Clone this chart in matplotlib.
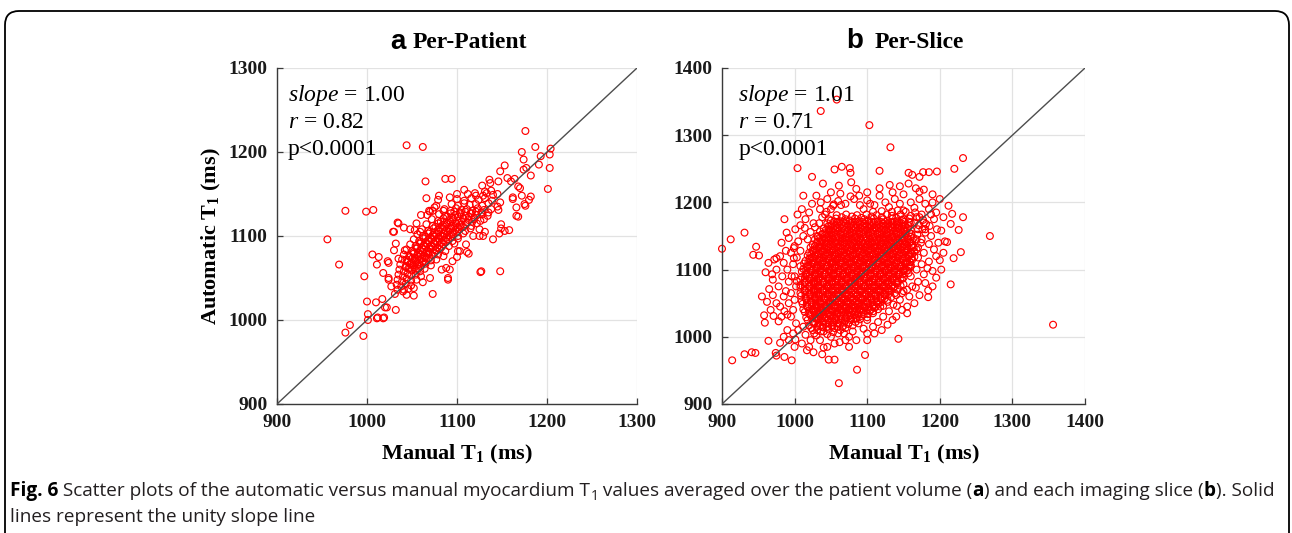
import matplotlib
matplotlib.use("Agg")
import matplotlib.pyplot as plt
from matplotlib.patches import FancyBboxPatch
from matplotlib.transforms import IdentityTransform

plt.rcParams['mathtext.fontset'] = 'custom'
plt.rcParams['mathtext.rm'] = 'Liberation Serif'
plt.rcParams['mathtext.it'] = 'Liberation Serif:italic'
plt.rcParams['mathtext.bf'] = 'Liberation Serif:bold'

# ---------------- data ----------------
titles = ["Per-Patient", "Per-Slice"]
panel_letters = ["a", "b"]
stats_a = ["1.00", "0.82", "p<0.0001"]
stats_b = ["1.01", "0.71", "p<0.0001"]
ticks_a = [900, 1000, 1100, 1200, 1300]
ticks_b = [900, 1000, 1100, 1200, 1300, 1400]

# Panel a: (manual T1, automatic T1) – scattered points
a_scatter = [
(1176,1225),(1044,1208),(1062,1206),(1187,1206),(1204,1204),(1172,1200),(1193,1195),(1203,1197),(1203,1181),(1191,1185),
(1201,1156),(1174,1191),(1177,1181),(1174,1179),(1182,1172),(1168,1159),(1172,1148),(1182,1147),(1175,1138),(1166,1134),
(1166,1124),(1162,1146),(1153,1184),(1148,1177),(1156,1169),(1164,1168),(1146,1165),(1136,1167),(1138,1154),(1129,1148),
(1065,1165),(1087,1168),(1094,1168),(1080,1148),(1092,1146),(1066,1145),(1069,1130),(1067,1125),(1077,1136),(1073,1130),
(976,1130),(999,1129),(1007,1131),(956,1096),(969,1066),(997,1052),(1034,1116),(1030,1105),(1041,1110),
(1006,1078),(1013,1075),(1011,1066),(1023,1070),(1024,1050),(1032,1091),(1030,1083),
(1000,1022),(1001,1007),(1001,1000),(1012,1003),(1019,1003),(1010,1021),(1017,1025),(1020,1015),(1032,1012),
(981,994),(976,985),(996,981),(1127,1058),(1148,1058),(1073,1031),(1052,1029),
(1140,1096),(1147,1103),(1158,1107),(1129,1100),(1131,1105),(1125,1100),(1113,1079),(1103,1082),(1090,1050),(1088,1062),
(1042,1083),(1044,1072),(1052,1038),(1041,1036),(1018,1056),(1024,1068),(1035,1073),(1027,1040),(1024,1048),(1031,1031),
(1044,1030),(1022,1015),(1018,1002),(1011,1002),(1111,1081),(1101,1082),(1126,1057),(1092,1060),(1090,1048),
(1160,1165),(1170,1157),(1137,1163),(1162,1144),(1180,1143),(1176,1136),(1168,1123),(1148,1140),(1146,1131),(1149,1114),
(1149,1109),(1153,1106),(1120,1151),(1131,1153),(1079,1143),(1070,1129),(1075,1134),(1059,1105),(1053,1107),(1035,1115),
(1029,1105),(1062,1045),(1070,1050),(1083,1060),(1095,1070),(1100,1075),(1110,1090),(1118,1100),(1125,1108),(1055,1115),
(1048,1108),(1060,1125),(1085,1130),(1100,1150),(1108,1155),(1128,1160),(1145,1150),(1130,1120),(1135,1128),(1145,1135),
]

# Panel a: dense core along the identity line
a_core = [
(1112,1150),(1121,1148),(1133,1151),(1140,1149),
(1100,1144),(1108,1142),(1116,1145),(1124,1143),(1131,1145),(1139,1142),
(1094,1138),(1101,1136),(1108,1139),(1114,1137),(1121,1138),(1128,1136),(1135,1139),
(1086,1132),(1093,1130),(1099,1133),(1105,1131),(1111,1132),(1117,1130),(1123,1133),(1130,1131),(1138,1132),
(1080,1126),(1087,1124),(1093,1127),(1098,1125),(1104,1126),(1110,1124),(1116,1127),(1122,1125),(1128,1126),(1134,1124),
(1072,1120),(1079,1118),(1085,1121),(1091,1119),(1096,1120),(1102,1118),(1107,1121),(1113,1119),(1119,1120),(1126,1118),
(1066,1114),(1073,1112),(1079,1115),(1084,1113),(1089,1114),(1094,1112),(1099,1115),(1104,1113),(1110,1114),(1116,1112),(1122,1115),
(1061,1108),(1068,1106),(1074,1109),(1079,1107),(1084,1108),(1088,1106),(1093,1109),(1098,1107),(1103,1108),(1109,1106),(1115,1109),
(1056,1102),(1062,1100),(1068,1103),(1073,1101),(1077,1102),(1082,1100),(1086,1103),(1091,1101),(1096,1102),(1101,1100),(1107,1103),
(1052,1096),(1058,1094),(1063,1097),(1068,1095),(1072,1096),(1076,1094),(1080,1097),(1085,1095),(1090,1096),(1095,1094),(1101,1097),
(1048,1090),(1054,1088),(1059,1091),(1063,1089),(1067,1090),(1071,1088),(1075,1091),(1080,1089),(1085,1090),(1091,1088),(1097,1091),
(1044,1084),(1050,1082),(1055,1085),(1059,1083),(1063,1084),(1067,1082),(1071,1085),(1076,1083),(1081,1084),(1087,1082),
(1041,1078),(1047,1076),(1052,1079),(1056,1077),(1060,1078),(1064,1076),(1068,1079),(1073,1077),(1079,1078),(1085,1076),
(1039,1072),(1045,1070),(1050,1073),(1054,1071),(1058,1072),(1062,1070),(1066,1073),(1071,1071),(1077,1072),
(1037,1066),(1043,1064),(1048,1067),(1052,1065),(1056,1066),(1060,1064),(1065,1067),(1071,1065),
(1036,1060),(1041,1058),(1046,1061),(1050,1059),(1054,1060),(1059,1058),(1064,1061),
(1035,1054),(1040,1052),(1045,1055),(1049,1053),(1054,1054),(1060,1052),
(1034,1048),(1039,1046),(1044,1049),(1049,1047),(1055,1048),
(1033,1042),(1038,1040),(1043,1043),(1049,1041),
(1034,1036),(1040,1034),(1046,1037),
]

# Panel a: extra readings in the densest stretch (between the rows above)
a_fill = [
(1097,1129),(1103,1128),(1109,1129),(1115,1127),(1121,1129),(1127,1128),
(1089,1123),(1095,1122),(1101,1123),(1107,1121),(1113,1123),(1119,1122),
(1082,1117),(1088,1116),(1093,1117),(1099,1115),(1105,1117),(1111,1116),(1117,1117),
(1076,1111),(1081,1110),(1086,1111),(1091,1109),(1096,1111),(1101,1110),(1107,1111),
(1070,1105),(1075,1104),(1080,1105),(1085,1103),(1090,1105),(1095,1104),(1100,1105),
(1065,1099),(1070,1098),(1075,1099),(1079,1097),(1084,1099),(1088,1098),(1093,1099),
(1060,1093),(1065,1092),(1069,1093),(1074,1091),(1078,1093),(1083,1092),(1088,1093),
(1056,1087),(1061,1086),(1065,1087),(1069,1085),(1073,1087),(1078,1086),(1083,1087),
(1052,1081),(1057,1080),(1062,1081),(1066,1079),(1070,1081),(1075,1080),
(1048,1075),(1053,1074),(1057,1075),(1061,1073),(1065,1075),(1069,1074),
(1045,1069),(1050,1068),(1054,1069),(1058,1067),(1062,1069),
(1043,1063),(1048,1062),(1052,1063),(1057,1061),
]

# Panel b: outlying slices
b_scatter = [
(1058,1353),(1036,1336),(1103,1315),(1132,1282),(1232,1266),(1004,1251),(1024,1238),(1039,1228),(1055,1249),(1065,1253),
(1076,1251),(1077,1244),(1078,1230),(1061,1225),(1063,1213),(1117,1247),(1131,1226),(1117,1221),(1117,1210),(1157,1244),
(1162,1241),(1172,1238),(1177,1245),(1185,1245),(1196,1246),(1220,1250),(1145,1224),(1157,1228),(1167,1221),(1172,1216),
(1178,1219),(1024,1198),(1036,1200),(1054,1197),(1064,1196),(1089,1210),(1077,1209),(1104,1198),(986,1175),(1001,1160),
(989,1155),(1014,1162),(1026,1169),(1034,1169),(1042,1182),(1047,1175),(931,1155),(912,1145),(900,1131),(947,1134),
(943,1122),(951,1121),(964,1110),(960,1096),(969,1093),(972,1115),(965,1071),(970,1062),(962,1052),(958,1032),
(959,1021),(971,1031),(978,1023),(990,1033),(964,994),(980,991),(974,976),(986,970),(996,965),(975,972),
(914,965),(931,974),(941,977),(946,976),(1001,996),(1017,980),(1026,977),(1038,974),(1047,966),(1055,966),
(1040,984),(1061,931),(1086,951),(1097,973),(1100,1005),(1070,995),(1075,1000),(1143,997),(1356,1018),(1269,1150),
(1229,1126),(1219,1117),(1215,1078),(1232,1178),(1217,1183),(1212,1195),(1215,1168),(1226,1159),(1207,1142),(1210,1141),
(1200,1114),(1184,1069),(1184,1059),(1183,1102),(1167,1073),(1155,1070),(1148,1065),(1141,1046),(1155,1045),
]

# Panel b: halo around the dense core
b_halo = [
(1005,1142),(1012,1150),(1018,1145),(1022,1156),(1028,1163),(1031,1150),(1038,1178),(1044,1186),(1050,1190),(1035,1190),
(1015,1175),(1008,1166),(1020,1185),(1047,1160),(1053,1195),(1060,1202),(1070,1198),(1082,1205),(1090,1196),(1100,1203),
(1095,1190),(1110,1196),(1125,1200),(1138,1205),(1130,1193),(1145,1198),(1150,1188),(1160,1200),(1165,1192),(1172,1205),
(1180,1198),(1185,1190),(1175,1182),(1190,1200),(1195,1185),(1168,1178),(1178,1170),(1186,1165),(1192,1175),(1160,1170),
(1170,1160),(1180,1155),(1188,1150),(1196,1160),(1175,1145),(1185,1138),(1192,1130),(1178,1125),(1170,1118),(1185,1112),
(1195,1120),(1175,1108),(1168,1100),(1178,1093),(1190,1098),(1160,1090),(1170,1082),(1162,1075),(1150,1078),(1158,1060),
(1145,1055),(1136,1048),(1148,1040),(1130,1038),(1122,1030),(1135,1025),(1115,1022),(1108,1015),(1120,1010),(1100,1025),
(1095,1012),(1088,1020),(1080,1008),(1085,995),(1068,1005),(1062,992),(1075,985),(1055,990),(1050,1000),(1045,985),
(1035,995),(1030,1002),(1040,1008),(1022,995),(1015,1003),(1010,990),(1005,1010),(998,1005),(1002,1020),(995,1030),
(998,1040),(992,1050),(1000,1055),(995,1065),(1002,1075),(992,1082),(1000,1090),(990,1100),(998,1108),(1003,1118),
(995,1125),(1000,1135),(1008,1128),(1008,1105),(985,1110),(980,1120),(983,1090),(978,1075),(985,1060),(980,1045),
(986,1038),(975,1050),(970,1085),(988,1128),(975,1100),(982,1140),(992,1147),(1010,1190),(1004,1182),(1030,1210),
(1045,1205),(1012,1210),(1050,1215),(1085,1220),(1100,1215),(1150,1212),(1135,1215),(1190,1212),(1200,1205),(1205,1178),
(1202,1158),(1198,1140),(1205,1125),(1202,1100),(1195,1088),(1190,1075),(1180,1080),(1172,1062),(1165,1050),(1155,1035),
(1140,1030),(1128,1018),(1110,1005),(1100,995),(1090,1040),(1118,1045),(1108,1035),(1128,1055),(1140,1062),(1150,1068),
(1160,1105),(1168,1130),(1180,1160),(1150,1175),(990,1010),(985,1000),(1000,985),(992,995),(1020,985),(1012,1015),
(1025,1010),(975,1117),(999,1117),(999,1132),(996,1090),(1003,1083),(988,1068),(967,1040),(982,1030),(955,1060),
(1146,1182),(1153,1186),(1160,1180),(1166,1185),(1172,1178),(1158,1176),(1165,1170),(1171,1166),(1177,1174),(1169,1152),
(1174,1140),(1170,1133),(1168,1145),(1142,1188),(1134,1186),(1120,1187),(1108,1186),(1176,1160),(1181,1168),(1188,1182),
]

# Panel b: dense core of slices
b_core = [
(1058,1181),(1065,1178),(1071,1182),(1079,1179),(1086,1181),(1092,1177),(1099,1182),(1106,1179),(1113,1181),(1120,1178),(1127,1182),(1134,1180),(1140,1177),
(1050,1173),(1057,1176),(1063,1172),(1070,1175),(1076,1173),(1083,1176),(1089,1172),(1096,1175),(1102,1173),(1109,1176),(1115,1172),(1122,1175),(1128,1173),(1135,1176),(1141,1172),(1148,1174),
(1045,1169),(1051,1166),(1058,1170),(1064,1167),(1070,1169),(1077,1166),(1083,1170),(1090,1167),(1096,1169),(1103,1166),(1109,1170),(1116,1167),(1122,1169),(1128,1166),(1135,1170),(1141,1167),(1147,1169),(1152,1166),
(1040,1161),(1046,1164),(1053,1160),(1059,1163),(1065,1161),(1072,1164),(1078,1160),(1084,1163),(1091,1161),(1097,1164),(1103,1160),(1110,1163),(1116,1161),(1122,1164),(1129,1160),(1135,1163),(1142,1161),(1148,1164),(1155,1160),
(1035,1157),(1041,1154),(1048,1158),(1054,1155),(1060,1157),(1067,1154),(1073,1158),(1079,1155),(1086,1157),(1092,1154),(1098,1158),(1105,1155),(1111,1157),(1117,1154),(1124,1158),(1130,1155),(1137,1157),(1143,1154),(1150,1158),(1158,1155),
(1032,1149),(1038,1152),(1045,1148),(1051,1151),(1057,1149),(1064,1152),(1070,1148),(1076,1151),(1083,1149),(1089,1152),(1095,1148),(1102,1151),(1108,1149),(1114,1152),(1121,1148),(1127,1151),(1134,1149),(1140,1152),(1147,1148),(1153,1151),(1160,1149),
(1028,1145),(1034,1142),(1041,1146),(1047,1143),(1053,1145),(1060,1142),(1066,1146),(1072,1143),(1079,1145),(1085,1142),(1091,1146),(1098,1143),(1104,1145),(1110,1142),(1117,1146),(1123,1143),(1130,1145),(1136,1142),(1143,1146),(1149,1143),(1156,1145),(1162,1142),
(1025,1137),(1031,1140),(1038,1136),(1044,1139),(1050,1137),(1057,1140),(1063,1136),(1069,1139),(1076,1137),(1082,1140),(1088,1136),(1095,1139),(1101,1137),(1107,1140),(1114,1136),(1120,1139),(1127,1137),(1133,1140),(1140,1136),(1146,1139),(1152,1137),(1158,1140),(1163,1136),
(1022,1133),(1028,1130),(1035,1134),(1041,1131),(1047,1133),(1054,1130),(1060,1134),(1066,1131),(1073,1133),(1079,1130),(1085,1134),(1092,1131),(1098,1133),(1104,1130),(1111,1134),(1117,1131),(1124,1133),(1130,1130),(1137,1134),(1143,1131),(1149,1133),(1156,1130),(1164,1133),
(1020,1125),(1026,1128),(1033,1124),(1039,1127),(1045,1125),(1052,1128),(1058,1124),(1064,1127),(1071,1125),(1077,1128),(1083,1124),(1090,1127),(1096,1125),(1102,1128),(1109,1124),(1115,1127),(1122,1125),(1128,1128),(1135,1124),(1141,1127),(1147,1125),(1154,1128),(1160,1124),(1165,1127),
(1018,1121),(1024,1118),(1031,1122),(1037,1119),(1043,1121),(1050,1118),(1056,1122),(1062,1119),(1069,1121),(1075,1118),(1081,1122),(1088,1119),(1094,1121),(1100,1118),(1107,1122),(1113,1119),(1120,1121),(1126,1118),(1133,1122),(1139,1119),(1145,1121),(1152,1118),(1158,1122),(1165,1119),
(1015,1113),(1021,1116),(1028,1112),(1034,1115),(1040,1113),(1047,1116),(1053,1112),(1059,1115),(1066,1113),(1072,1116),(1078,1112),(1085,1115),(1091,1113),(1097,1116),(1104,1112),(1110,1115),(1117,1113),(1123,1116),(1130,1112),(1136,1115),(1142,1113),(1149,1116),(1155,1112),(1162,1115),
(1013,1109),(1019,1106),(1026,1110),(1032,1107),(1038,1109),(1045,1106),(1051,1110),(1057,1107),(1064,1109),(1070,1106),(1076,1110),(1083,1107),(1089,1109),(1095,1106),(1102,1110),(1108,1107),(1115,1109),(1121,1106),(1128,1110),(1134,1107),(1140,1109),(1147,1106),(1153,1110),(1160,1107),
(1012,1101),(1018,1104),(1025,1100),(1031,1103),(1037,1101),(1044,1104),(1050,1100),(1056,1103),(1063,1101),(1069,1104),(1075,1100),(1082,1103),(1088,1101),(1094,1104),(1101,1100),(1107,1103),(1114,1101),(1120,1104),(1127,1100),(1133,1103),(1139,1101),(1146,1104),(1152,1100),(1159,1103),
(1010,1097),(1016,1094),(1023,1098),(1029,1095),(1035,1097),(1042,1094),(1048,1098),(1054,1095),(1061,1097),(1067,1094),(1073,1098),(1080,1095),(1086,1097),(1092,1094),(1099,1098),(1105,1095),(1112,1097),(1118,1094),(1125,1098),(1131,1095),(1137,1097),(1144,1094),(1150,1098),(1157,1095),
(1010,1089),(1016,1092),(1023,1088),(1029,1091),(1035,1089),(1042,1092),(1048,1088),(1054,1091),(1061,1089),(1067,1092),(1073,1088),(1080,1091),(1086,1089),(1092,1092),(1099,1088),(1105,1091),(1112,1089),(1118,1092),(1125,1088),(1131,1091),(1137,1089),(1144,1092),(1150,1088),
(1008,1085),(1014,1082),(1021,1086),(1027,1083),(1033,1085),(1040,1082),(1046,1086),(1052,1083),(1059,1085),(1065,1082),(1071,1086),(1078,1083),(1084,1085),(1090,1082),(1097,1086),(1103,1083),(1110,1085),(1116,1082),(1123,1086),(1129,1083),(1135,1085),(1142,1082),(1148,1086),
(1008,1077),(1014,1080),(1021,1076),(1027,1079),(1033,1077),(1040,1080),(1046,1076),(1052,1079),(1059,1077),(1065,1080),(1071,1076),(1078,1079),(1084,1077),(1090,1080),(1097,1076),(1103,1079),(1110,1077),(1116,1080),(1123,1076),(1129,1079),(1135,1077),(1142,1080),(1146,1076),
(1008,1073),(1014,1070),(1021,1074),(1027,1071),(1033,1073),(1040,1070),(1046,1074),(1052,1071),(1059,1073),(1065,1070),(1071,1074),(1078,1071),(1084,1073),(1090,1070),(1097,1074),(1103,1071),(1110,1073),(1116,1070),(1123,1074),(1129,1071),(1136,1073),(1142,1070),
(1008,1065),(1014,1068),(1021,1064),(1027,1067),(1033,1065),(1040,1068),(1046,1064),(1052,1067),(1059,1065),(1065,1068),(1071,1064),(1078,1067),(1084,1065),(1090,1068),(1097,1064),(1103,1067),(1110,1065),(1116,1068),(1123,1064),(1130,1067),(1138,1065),
(1009,1061),(1015,1058),(1022,1062),(1028,1059),(1034,1061),(1041,1058),(1047,1062),(1053,1059),(1060,1061),(1066,1058),(1072,1062),(1079,1059),(1085,1061),(1091,1058),(1098,1062),(1104,1059),(1111,1061),(1118,1058),(1125,1062),(1133,1059),
(1010,1053),(1016,1056),(1023,1052),(1029,1055),(1035,1053),(1042,1056),(1048,1052),(1054,1055),(1061,1053),(1067,1056),(1073,1052),(1080,1055),(1086,1053),(1092,1056),(1099,1052),(1106,1055),(1113,1053),(1120,1056),(1128,1052),
(1011,1049),(1017,1046),(1024,1050),(1030,1047),(1036,1049),(1043,1046),(1049,1050),(1055,1047),(1062,1049),(1068,1046),(1074,1050),(1081,1047),(1087,1049),(1094,1046),(1101,1050),(1108,1047),(1115,1049),(1122,1046),
(1012,1041),(1018,1044),(1025,1040),(1031,1043),(1037,1041),(1044,1044),(1050,1040),(1056,1043),(1063,1041),(1069,1044),(1076,1040),(1083,1043),(1090,1041),(1097,1044),(1104,1040),(1110,1043),(1115,1041),
(1014,1037),(1020,1034),(1027,1038),(1033,1035),(1039,1037),(1046,1034),(1052,1038),(1059,1035),(1066,1037),(1073,1034),(1080,1038),(1087,1035),(1094,1037),(1101,1034),(1108,1038),
(1016,1029),(1022,1032),(1029,1028),(1035,1031),(1042,1029),(1049,1032),(1056,1028),(1063,1031),(1070,1029),(1077,1032),(1085,1028),(1092,1031),(1100,1029),
(1018,1025),(1025,1022),(1032,1026),(1039,1023),(1046,1025),(1053,1022),(1061,1026),(1069,1023),(1077,1025),(1084,1022),(1090,1026),
(1020,1017),(1027,1020),(1035,1016),(1043,1019),(1051,1017),(1059,1020),(1067,1016),(1074,1019),(1080,1017),
(1023,1013),(1031,1010),(1039,1014),(1047,1011),(1055,1013),(1063,1010),(1070,1013),
(1027,1005),(1036,1008),(1045,1004),(1053,1007),(1060,1005),
]

# Panel b: further slices read in the solid interior, one row of manual values per automatic level
b_fill_auto = [1171, 1165, 1159, 1153, 1147, 1141, 1135, 1129, 1123, 1117, 1111, 1105, 1099, 1093,
               1087, 1081, 1075, 1069, 1063, 1057, 1051, 1045, 1039, 1033, 1027, 1021, 1015]
b_fill_manual = [
[1054,1061,1067,1074,1080,1087,1093,1100,1106,1112,1119,1125,1132,1138,1144,1151,1158],
[1049,1056,1062,1068,1075,1081,1087,1094,1100,1106,1113,1119,1125,1132,1138,1144,1150,1157],
[1043,1050,1056,1062,1069,1075,1081,1088,1094,1100,1107,1113,1119,1126,1132,1139,1145,1152,1160],
[1038,1044,1051,1057,1063,1070,1076,1082,1089,1095,1101,1108,1114,1120,1127,1133,1140,1146,1152,1161],
[1034,1041,1047,1053,1060,1066,1072,1079,1085,1091,1098,1104,1110,1117,1123,1130,1136,1142,1149,1156,1164],
[1031,1037,1044,1050,1056,1063,1069,1075,1082,1088,1094,1101,1107,1113,1120,1126,1133,1139,1145,1152,1159],
[1028,1034,1041,1047,1053,1060,1066,1072,1079,1085,1091,1098,1104,1110,1117,1123,1130,1136,1142,1149,1155,1161],
[1025,1031,1038,1044,1050,1057,1063,1069,1076,1082,1088,1095,1101,1107,1114,1120,1127,1133,1139,1146,1152,1160],
[1023,1029,1036,1042,1048,1055,1061,1067,1074,1080,1086,1093,1099,1105,1112,1118,1125,1131,1137,1144,1150,1157,1162],
[1021,1027,1034,1040,1046,1053,1059,1065,1072,1078,1084,1091,1097,1103,1110,1116,1123,1129,1135,1142,1148,1155,1161],
[1019,1025,1032,1038,1044,1051,1057,1063,1070,1076,1082,1089,1095,1101,1108,1114,1121,1127,1133,1140,1146,1153,1159],
[1017,1023,1030,1036,1042,1049,1055,1061,1068,1074,1080,1087,1093,1099,1106,1112,1119,1125,1131,1138,1144,1151,1157],
[1016,1022,1029,1035,1041,1048,1054,1060,1067,1073,1079,1086,1092,1098,1105,1111,1118,1124,1130,1137,1143,1150,1155],
[1015,1021,1028,1034,1040,1047,1053,1059,1066,1072,1078,1085,1091,1097,1104,1110,1117,1123,1129,1136,1142,1149],
[1014,1020,1027,1033,1039,1046,1052,1058,1065,1071,1077,1084,1090,1096,1103,1109,1116,1122,1128,1135,1141,1146],
[1014,1020,1026,1032,1038,1045,1051,1057,1064,1070,1076,1083,1089,1095,1102,1108,1115,1121,1127,1134,1140],
[1014,1020,1026,1032,1038,1044,1050,1056,1063,1069,1075,1082,1088,1094,1101,1107,1114,1120,1126,1133,1138],
[1014,1020,1026,1032,1038,1044,1050,1056,1062,1068,1074,1081,1087,1093,1100,1106,1113,1119,1125,1132],
[1015,1021,1027,1033,1039,1045,1051,1057,1063,1069,1075,1081,1087,1093,1099,1105,1112,1118,1124,1129],
[1016,1022,1028,1034,1040,1046,1052,1058,1064,1070,1076,1082,1088,1094,1100,1106,1112,1118,1124],
[1017,1023,1029,1035,1041,1047,1053,1059,1065,1071,1077,1083,1089,1095,1101,1107,1113,1118],
[1018,1024,1030,1036,1042,1048,1054,1060,1066,1072,1078,1084,1090,1096,1102,1108,1112],
[1020,1026,1032,1038,1044,1050,1056,1062,1068,1074,1080,1086,1092,1098,1104],
[1022,1028,1034,1040,1046,1052,1058,1064,1070,1076,1082,1088,1095],
[1024,1030,1036,1043,1050,1057,1064,1071,1078,1085],
[1026,1033,1040,1047,1054,1061,1068,1075],
[1031,1038,1045,1052,1059,1066],
]

caption_line1 = [("Fig. 6", "bold", 0), (" Scatter plots of the automatic versus manual myocardium T", "normal", 0),
                 ("1", "normal", 1), (" values averaged over the patient volume (", "normal", 0), ("a", "bold", 0),
                 (") and each imaging slice (", "normal", 0), ("b", "bold", 0), ("). Solid", "normal", 0)]
caption_line2 = "lines represent the unity slope line"

# ---------------- figure ----------------
W, H = 1292, 533
fig = plt.figure(figsize=(W / 100, H / 100), dpi=100)
fig.patch.set_facecolor('white')

box = FancyBboxPatch((5, -40), 1284, 40 + (H - 11), boxstyle="round,pad=0,rounding_size=14",
                     transform=IdentityTransform(), fill=False, ec='black', lw=1.3)
fig.add_artist(box)

SERIF = 'Liberation Serif'


def make_axes(rect, lim, ticks, groups, stats, tx):
    ax = fig.add_axes(rect)
    ax.set_xlim(lim)
    ax.set_ylim(lim)
    ax.set_xticks(ticks)
    ax.set_yticks(ticks)
    ax.grid(True, color='#e2e2e2', lw=0.9, zorder=0)
    ax.set_axisbelow(True)
    ax.plot(lim, lim, color='#4d4d4d', lw=1.0, zorder=3)
    xs, ys = [], []
    for g in groups:
        xs += [p[0] for p in g]
        ys += [p[1] for p in g]
    ax.scatter(xs, ys, s=24, facecolors='none', edgecolors='#ff0000', linewidths=0.85, zorder=2, clip_on=False)
    for s in ['top', 'right']:
        ax.spines[s].set_visible(False)
    for s in ['left', 'bottom']:
        ax.spines[s].set_color('#3a3a3a')
        ax.spines[s].set_linewidth(1.0)
    ax.tick_params(direction='in', length=4, width=0.9, color='#3a3a3a', pad=7)
    for lab in ax.get_xticklabels() + ax.get_yticklabels():
        lab.set_fontfamily(SERIF)
        lab.set_fontweight('bold')
        lab.set_fontsize(14)
        lab.set_color('#1a1a1a')
    ax.text(tx, 0.917, r'$\mathit{slope}$ = ' + stats[0], transform=ax.transAxes, fontsize=17,
            family=SERIF, va='center', ha='left')
    ax.text(tx, 0.839, r'$\mathit{r}$ = ' + stats[1], transform=ax.transAxes, fontsize=17,
            family=SERIF, va='center', ha='left')
    ax.text(tx, 0.756, stats[2], transform=ax.transAxes, fontsize=17,
            family=SERIF, va='center', ha='left')
    ax.set_xlabel(r'Manual T$_{\mathbf{1}}$ (ms)', family=SERIF, fontweight='bold', fontsize=16, labelpad=9)
    return ax


b_fill = [(xm, ya) for ya, row in zip(b_fill_auto, b_fill_manual) for xm in row]

axA = make_axes([277 / W, 1 - 404 / H, 360 / W, 336 / H], (900, 1300), ticks_a,
                [a_scatter, a_core, a_fill], stats_a, 0.03)
axB = make_axes([722 / W, 1 - 404 / H, 363 / W, 336 / H], (900, 1400), ticks_b,
                [b_scatter, b_halo, b_core, b_fill], stats_b, 0.045)
axA.set_ylabel(r'Automatic T$_{\mathbf{1}}$ (ms)', family=SERIF, fontweight='bold', fontsize=16, labelpad=4)

# titles
fig.text(398 / W, 1 - 42 / H, panel_letters[0], family='Liberation Sans', fontweight='bold', fontsize=20,
         ha='center', va='center')
fig.text(413 / W, 1 - 42 / H, titles[0], family=SERIF, fontweight='bold', fontsize=17, ha='left', va='center')
fig.text(855 / W, 1 - 41 / H, panel_letters[1], family='Liberation Sans', fontweight='bold', fontsize=20,
         ha='center', va='center')
fig.text(875 / W, 1 - 42 / H, titles[1], family=SERIF, fontweight='bold', fontsize=17, ha='left', va='center')

# caption
renderer = fig.canvas.get_renderer()
CAP = 'Open Sans'
x = 10
y1 = H - 491
for txt, wt, sub in caption_line1:
    size = 10 if sub else 13.7
    yy = y1 - 5 if sub else y1
    col = 'black' if wt == 'bold' else '#231f20'
    t = fig.text(x / W, yy / H, txt, family=CAP, fontweight=wt, fontsize=size, va='center', ha='left', color=col)
    bb = t.get_window_extent(renderer)
    x += bb.width
fig.text(10 / W, (H - 517) / H, caption_line2, family=CAP, fontsize=13.7, va='center', ha='left', color='#231f20')

fig.savefig('out.png', dpi=100, facecolor='white')
